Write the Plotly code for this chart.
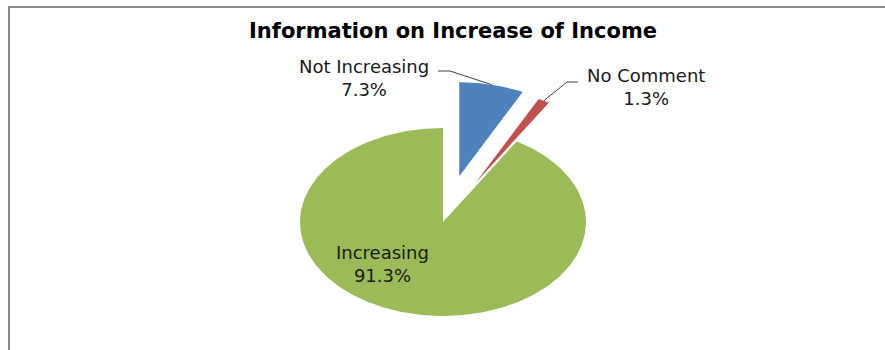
import numpy as np
import plotly.graph_objects as go

# Survey answers, in clockwise order starting at 12 o'clock
categories = ["Not Increasing", "No Comment", "Increasing"]
shares = [7.3, 1.3, 91.3]
colors = ["#4F81BD", "#C0504D", "#9BBB59"]
explode = [0.5, 0.47, 0.0]

W, H = 885, 350
CX, CY = 443, 222          # pie centre in pixels (from the top-left)
RX, RY = 143, 94           # horizontal / vertical radius in pixels

fig = go.Figure()

total = sum(shares)
start = 0.0
mid_points = {}
for name, val, col, pull in zip(categories, shares, colors, explode):
    span = val / total * 2 * np.pi
    mid = start + span / 2
    ox, oy = pull * np.sin(mid), pull * np.cos(mid)
    t = np.linspace(start, start + span, max(int(span * 60), 8))
    xs = np.concatenate([[ox], ox + np.sin(t), [ox]])
    ys = np.concatenate([[oy], oy + np.cos(t), [oy]])
    fig.add_trace(go.Scatter(
        x=xs, y=ys, mode="lines", fill="toself", fillcolor=col,
        line=dict(width=0, color=col), hoverinfo="skip", showlegend=False,
    ))
    mid_points[name] = (ox + np.sin(mid), oy + np.cos(mid), val)
    start += span


def px(x, y):
    """pixel position -> unit data coordinates"""
    return (x - CX) / RX, (CY - y) / RY


lab_font = dict(family="DejaVu Sans", size=18, color="#1a1a1a")

# leader lines for the two pulled slices
leaders = {
    "Not Increasing": [px(438, 71), px(450, 71)],
    "No Comment": [px(578, 82), px(567, 82)],
}
for name, pts in leaders.items():
    ex, ey, _ = mid_points[name]
    xs = [p[0] for p in pts] + [ex]
    ys = [p[1] for p in pts] + [ey]
    fig.add_trace(go.Scatter(x=xs, y=ys, mode="lines",
                             line=dict(color="#404040", width=1),
                             hoverinfo="skip", showlegend=False))

label_pos = {
    "Not Increasing": (364, 78),
    "No Comment": (646, 87),
    "Increasing": (382, 264),
}
for name, val in zip(categories, shares):
    x, y = px(*label_pos[name])
    fig.add_annotation(x=x, y=y, text=f"{name}<br>{val}%", showarrow=False,
                       font=lab_font, align="center", xanchor="center",
                       yanchor="middle")

# outer chart frame (only top and left edges fall inside the page)
fig.add_shape(type="rect", xref="paper", yref="paper",
              x0=9 / W, x1=1.05, y0=-0.05, y1=1 - 7 / H,
              line=dict(color="#8a8a8a", width=2), fillcolor="rgba(0,0,0,0)")

fig.add_annotation(xref="paper", yref="paper", x=453 / W, y=1 - 31 / H,
                   text="<b>Information on Increase of Income</b>",
                   showarrow=False, xanchor="center", yanchor="middle",
                   font=dict(family="DejaVu Sans", size=21, color="#000000"))

fig.update_xaxes(visible=False, range=[-CX / RX, (W - CX) / RX])
fig.update_yaxes(visible=False, range=[-(H - CY) / RY, CY / RY])
fig.update_layout(width=W, height=H, margin=dict(l=0, r=0, t=0, b=0),
                  paper_bgcolor="white", plot_bgcolor="white",
                  showlegend=False)

fig.write_html("out.html")
